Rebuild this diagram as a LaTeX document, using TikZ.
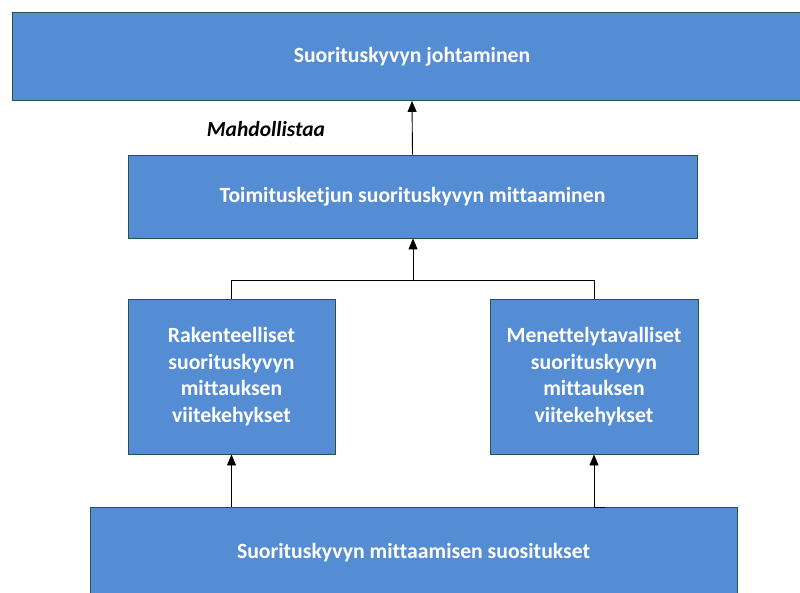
\documentclass[tikz,border=0pt]{standalone}
\usepackage{fontspec}
\setmainfont[Ligatures=NoCommon]{Carlito}
\usetikzlibrary{arrows.meta}
\definecolor{boxfill}{RGB}{85,141,213}
\definecolor{boxline}{RGB}{38,84,74}
\tikzset{
  card/.style={draw=boxline, line width=0.9pt, fill=boxfill, rectangle,
    text=white, font=\bfseries\fontsize{21.7}{26.5}\selectfont, align=center,
    inner sep=0pt},
  link/.style={draw=black, line width=0.9pt},
  uparrow/.style={link, -{Triangle[length=11pt,width=9pt]}}
}
\begin{document}
\begin{tikzpicture}[x=1pt,y=-1pt]
  \useasboundingbox (0,0) rectangle (800,593);
  \clip (0,0) rectangle (800,593);
  % boxes
  \node[card, minimum width=800pt, minimum height=88pt] (lead) at (412,56.5) {Suorituskyvyn johtaminen};
  \node[card, minimum width=569pt, minimum height=83pt] (chain) at (412.5,196.5) {Toimitusketjun suorituskyvyn mittaaminen};
  \node[card, minimum width=207pt, minimum height=155pt] (struct) at (231.5,376.5) {Rakenteelliset\\suorituskyvyn\\mittauksen\\viitekehykset};
  \node[card, minimum width=208pt, minimum height=155pt] (proc) at (594,376.5) {Menettelytavalliset\\suorituskyvyn\\mittauksen\\viitekehykset};
  \node[card, minimum width=647pt, minimum height=92pt] (recs) at (413.5,553) {Suorituskyvyn mittaamisen suositukset};
  % label
  \node[font=\bfseries\itshape\fontsize{21.5}{24}\selectfont, inner sep=0pt] (enables) at (266,129) {Mahdollistaa};
  % connectors
  \draw[uparrow] (chain.north) -- (lead.south);
  \coordinate (join) at (413,280);
  \draw[link] (struct.north) |- (join);
  \draw[link] (proc.north) |- (join);
  \draw[uparrow] (join) -- (join |- chain.south);
  \draw[uparrow] (struct.south |- recs.north) -- (struct.south);
  \coordinate (stub) at (605,507);
  \draw[uparrow] (stub) -- (proc.south |- stub) -- (proc.south);
\end{tikzpicture}
\end{document}
